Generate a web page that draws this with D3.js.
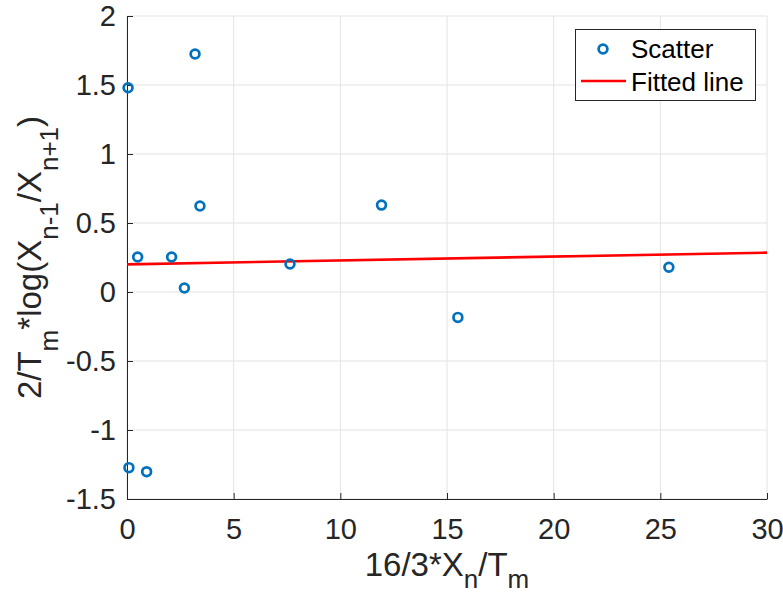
<!DOCTYPE html>
<html>
<head>
<meta charset="utf-8">
<script src="https://cdn.jsdelivr.net/npm/d3@7/dist/d3.min.js"></script>
<style>
  html, body { margin: 0; padding: 0; background: #fff; }
  svg { display: block; font-family: "Liberation Sans", Arial, Helvetica, sans-serif; }
</style>
</head>
<body>
<svg id="chart" width="783" height="597"></svg>
<script>
// Measured points
const scatterX = [0.05, 3.19, 3.42, 0.50, 2.09, 2.69, 7.64, 11.93, 15.51, 25.40, 0.09, 0.92];
const scatterY = [1.48, 1.725, 0.623, 0.254, 0.254, 0.029, 0.203, 0.630, -0.184, 0.179, -1.273, -1.302];

// Least-squares line evaluated at the ends of the x range
const fitX = [0, 30];
const fitY = [0.200, 0.285];

// Tick values
const xTicks = [0, 5, 10, 15, 20, 25, 30];
const yTicks = [-1.5, -1, -0.5, 0, 0.5, 1, 1.5, 2];

(function draw() {
  const svg = d3.select("#chart");
  const pLeft = 127, pRight = 767, pTop = 16, pBottom = 499;
  const axisColor = "#262626";
  const gridColor = "#e3e3e3";
  const blue = "#0072BD";
  const red = "#FF0000";
  const markerR = 4.4, markerW = 2.7;

  const x = d3.scaleLinear().domain([0, 30]).range([pLeft, pRight]);
  const y = d3.scaleLinear().domain([-1.5, 2]).range([pBottom, pTop]);
  const fmt = d => d3.format("~g")(d).replace("\u2212", "-");

  // Grid
  const grid = svg.append("g");
  grid.selectAll("line.gx").data(xTicks).join("line").attr("class", "gx")
    .attr("x1", d => x(d)).attr("x2", d => x(d))
    .attr("y1", pTop).attr("y2", pBottom)
    .attr("stroke", gridColor).attr("stroke-width", 1);
  grid.selectAll("line.gy").data(yTicks).join("line").attr("class", "gy")
    .attr("y1", d => y(d)).attr("y2", d => y(d))
    .attr("x1", pLeft).attr("x2", pRight)
    .attr("stroke", gridColor).attr("stroke-width", 1);

  // Axes
  const xAxis = d3.axisBottom(x).tickValues(xTicks).tickFormat(fmt)
    .tickSizeInner(-6).tickSizeOuter(0).tickPadding(19);
  const yAxis = d3.axisLeft(y).tickValues(yTicks).tickFormat(fmt)
    .tickSizeInner(-6).tickSizeOuter(0).tickPadding(11);

  const gx = svg.append("g").attr("transform", `translate(0,${pBottom})`).call(xAxis);
  const gy = svg.append("g").attr("transform", `translate(${pLeft},0)`).call(yAxis);
  [gx, gy].forEach(g => {
    g.select(".domain").attr("stroke", axisColor).attr("stroke-width", 1);
    g.selectAll(".tick line").attr("stroke", axisColor).attr("stroke-width", 1);
    g.selectAll(".tick text").attr("fill", axisColor)
      .style("font-size", "29px").style("font-family", "'Liberation Sans', Arial, sans-serif");
  });

  // Fitted line
  const line = d3.line().x(d => x(d[0])).y(d => y(d[1]));
  svg.append("path")
    .datum(fitX.map((v, i) => [v, fitY[i]]))
    .attr("d", line)
    .attr("fill", "none").attr("stroke", red).attr("stroke-width", 2.6);

  // Scatter markers
  svg.append("g").selectAll("circle")
    .data(scatterX.map((v, i) => [v, scatterY[i]]))
    .join("circle")
    .attr("cx", d => x(d[0])).attr("cy", d => y(d[1]))
    .attr("r", markerR).attr("fill", "none")
    .attr("stroke", blue).attr("stroke-width", markerW);

  // Axis labels with subscripts
  function addLabel(textSel, parts, shift) {
    parts.forEach(p => {
      const t = textSel.append("tspan").text(p.t);
      if (p.sub) {
        t.style("font-size", "26px").attr("dy", shift);
      } else if (p.after) {
        t.attr("dy", -shift);
      }
    });
  }

  const xl = svg.append("text")
    .attr("x", (pLeft + pRight) / 2).attr("y", 576)
    .attr("text-anchor", "middle").attr("fill", axisColor)
    .style("font-size", "33px");
  addLabel(xl, [
    { t: "16/3*X" }, { t: "n", sub: true }, { t: "/T", after: true }, { t: "m", sub: true }
  ], 12);

  const yl = svg.append("text")
    .attr("transform", `translate(41,${(pTop + pBottom) / 2}) rotate(-90)`)
    .attr("text-anchor", "middle").attr("fill", axisColor)
    .style("font-size", "33px");
  addLabel(yl, [
    { t: "2/T" }, { t: "m", sub: true }, { t: "*log(X", after: true },
    { t: "n-1", sub: true }, { t: "/X", after: true }, { t: "n+1", sub: true }, { t: ")", after: true }
  ], 17);

  // Legend
  const lg = svg.append("g");
  lg.append("rect").attr("x", 575.5).attr("y", 29.5).attr("width", 180).attr("height", 71)
    .attr("fill", "#fff").attr("stroke", axisColor).attr("stroke-width", 1);
  lg.append("circle").attr("cx", 603).attr("cy", 49).attr("r", markerR)
    .attr("fill", "none").attr("stroke", blue).attr("stroke-width", markerW);
  lg.append("line").attr("x1", 581).attr("x2", 626).attr("y1", 81).attr("y2", 81)
    .attr("stroke", red).attr("stroke-width", 2.6);
  lg.append("text").attr("x", 631).attr("y", 58).attr("fill", "#000")
    .style("font-size", "26px").text("Scatter");
  lg.append("text").attr("x", 631).attr("y", 91).attr("fill", "#000")
    .style("font-size", "26px").text("Fitted line");
})();
</script>
</body>
</html>
